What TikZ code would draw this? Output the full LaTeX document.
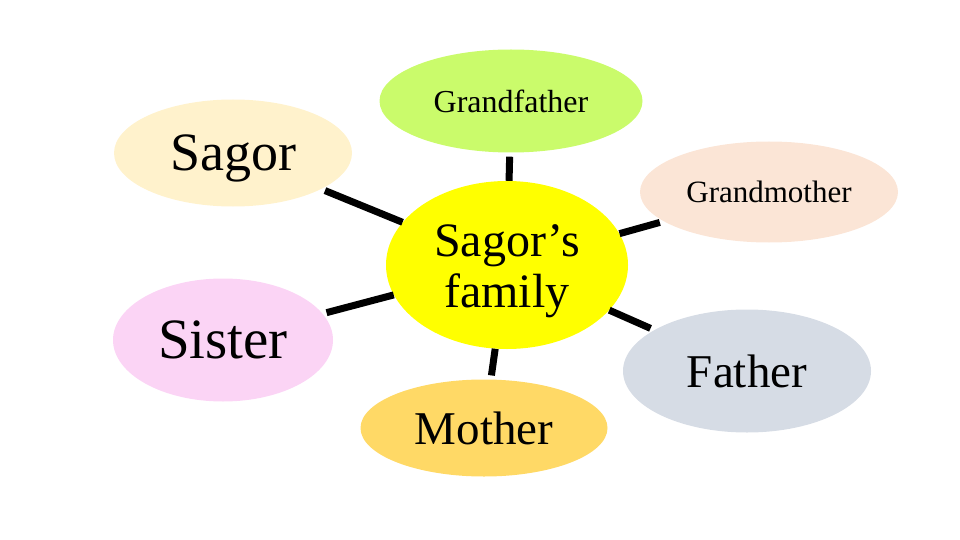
\documentclass[tikz,border=0pt]{standalone}
\usepackage{fontspec}
\setmainfont{Liberation Serif}
\usetikzlibrary{shapes.geometric}

\definecolor{famyellow}{HTML}{FFFF00}
\definecolor{sagorcream}{HTML}{FFF2CC}
\definecolor{gfgreen}{HTML}{CAFB6B}
\definecolor{gmpeach}{HTML}{FBE5D6}
\definecolor{sispink}{HTML}{FBD4F5}
\definecolor{mogold}{HTML}{FFD966}
\definecolor{fablue}{HTML}{D6DCE5}

\begin{document}
\begin{tikzpicture}[
  x=1pt, y=-1pt,
  member/.style={ellipse, inner sep=0pt, text=black, text depth=0pt},
  link/.style={line width=7pt, shorten >=4pt}
]
\useasboundingbox (0,0) rectangle (960,540);

\node[ellipse, inner sep=0pt, fill=famyellow, minimum width=242pt, minimum height=168pt,
  font=\fontsize{48}{51}\selectfont] (fam) at (507,265)
  {\raisebox{-7pt}[\height][\depth]{\begin{tabular}{@{}c@{}}Sagor’s\\family\end{tabular}}};
\node[member, fill=sagorcream, minimum width=238pt, minimum height=107pt,
  font=\fontsize{54}{58}\selectfont] (sagor) at (233,153) {Sagor};
\node[member, fill=gfgreen, minimum width=263pt, minimum height=103pt,
  font=\fontsize{32}{36}\selectfont] (gfather) at (511,101) {Grandfather};
\node[member, fill=gmpeach, minimum width=258pt, minimum height=101pt,
  font=\fontsize{31}{35}\selectfont] (gmother) at (769,192) {Grandmother};
\node[member, fill=sispink, minimum width=220pt, minimum height=123pt,
  font=\fontsize{57}{61}\selectfont] (sister) at (223,340) {Sister};
\node[member, fill=mogold, minimum width=247pt, minimum height=97pt,
  font=\fontsize{47}{51}\selectfont] (mother) at (484,428) {Mother};
\node[member, fill=fablue, minimum width=248pt, minimum height=123pt,
  font=\fontsize{47}{51}\selectfont] (father) at (747,371) {Father};

\draw[link] (fam) -- (sagor);
\draw[link] (fam) -- (gfather);
\draw[link] (fam) -- (gmother);
\draw[link] (fam) -- (sister);
\draw[link] (fam) -- (mother);
\draw[link] (fam) -- (father);
\end{tikzpicture}
\end{document}
